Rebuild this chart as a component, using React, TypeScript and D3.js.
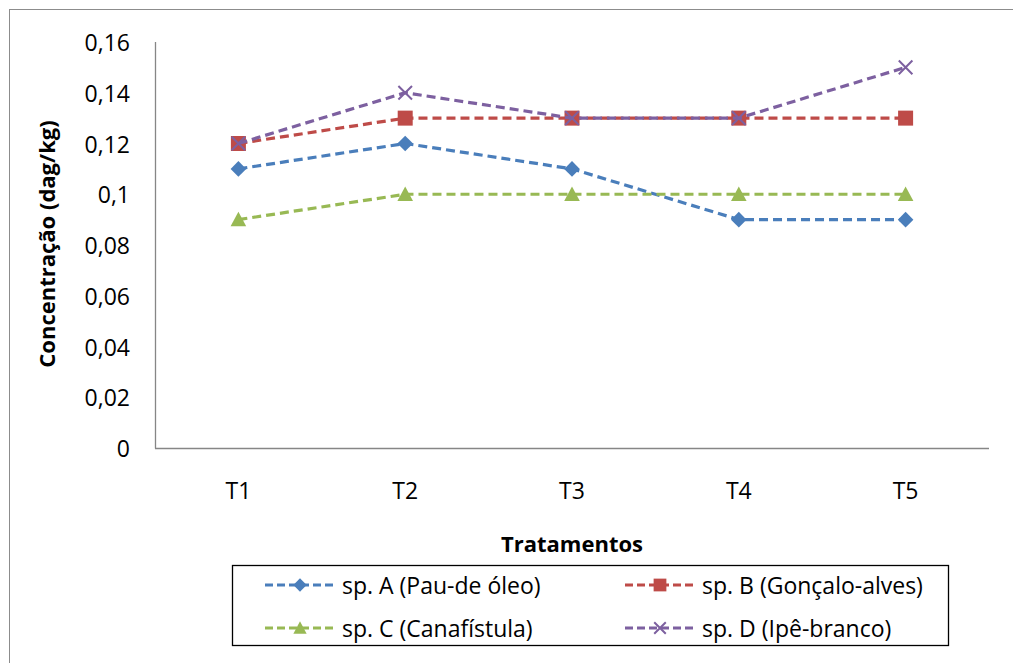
import React from "react";
import * as d3 from "d3";

const categories = ["T1", "T2", "T3", "T4", "T5"];
const seriesNames = [
  "sp. A (Pau-de óleo)",
  "sp. B (Gonçalo-alves)",
  "sp. C (Canafístula)",
  "sp. D (Ipê-branco)",
];
const seriesA = [0.11, 0.12, 0.11, 0.09, 0.09];
const seriesB = [0.12, 0.13, 0.13, 0.13, 0.13];
const seriesC = [0.09, 0.1, 0.1, 0.1, 0.1];
const seriesD = [0.12, 0.14, 0.13, 0.13, 0.15];
const yTicks = [0, 0.02, 0.04, 0.06, 0.08, 0.1, 0.12, 0.14, 0.16];
const colors = ["#4A7EBB", "#BE4B48", "#98B954", "#7D60A0"];
const markers = ["diamond", "square", "triangle", "x"];

const FONT = "'Open Sans', Lato, sans-serif";

function Marker({ type, x, y, color, k = 1 }: { type: string; x: number; y: number; color: string; k?: number }) {
  if (type === "diamond") {
    const s = 7.8 * k;
    return <path d={`M${x},${y - s}L${x + s},${y}L${x},${y + s}L${x - s},${y}Z`} fill={color} />;
  }
  if (type === "square") {
    const s = 7.5 * k;
    return <rect x={x - s} y={y - s} width={2 * s} height={2 * s} fill={color} />;
  }
  if (type === "triangle") {
    const s = 7.8 * k;
    return <path d={`M${x},${y - s}L${x + s},${y + s * 0.85}L${x - s},${y + s * 0.85}Z`} fill={color} />;
  }
  const s = 6.8 * k;
  return (
    <path
      d={`M${x - s},${y - s}L${x + s},${y + s}M${x - s},${y + s}L${x + s},${y - s}`}
      stroke={color}
      strokeWidth={2}
      fill="none"
    />
  );
}

export default function App() {
  const W = 1013;
  const H = 663;
  const left = 155;
  const right = 989;
  const top = 42;
  const bottom = 448;
  const x = d3.scaleBand().domain(categories).range([left, right]);
  const y = d3.scaleLinear().domain([0, 0.16]).range([bottom, top]);
  const cx = (c: string) => (x(c) ?? 0) + x.bandwidth() / 2;
  const allSeries = [seriesA, seriesB, seriesC, seriesD];
  const line = d3
    .line<number>()
    .x((_, i) => cx(categories[i]))
    .y((d) => y(d));

  const legendPos = [
    { lx: 265, ty: 585 },
    { lx: 625, ty: 585 },
    { lx: 265, ty: 628 },
    { lx: 625, ty: 628 },
  ];

  return (
    <div style={{ position: "absolute", left: 0, top: 0 }}>
      <svg width={W} height={H} style={{ display: "block" }}>
        <rect x={0} y={0} width={W} height={H} fill="#fff" />
        <rect x={9.5} y={9.5} width={W + 20} height={H + 20} fill="none" stroke="#8c8c8c" strokeWidth={1} />
        <line x1={left + 0.5} x2={left + 0.5} y1={top} y2={bottom + 0.5} stroke="#868686" strokeWidth={1.3} />
        <line x1={left} x2={right} y1={bottom + 0.5} y2={bottom + 0.5} stroke="#868686" strokeWidth={1.3} />
        {yTicks.map((t) => (
          <text
            key={t}
            x={130}
            y={y(t)}
            textAnchor="end"
            dominantBaseline="central"
            fontFamily={FONT}
            fontSize={23}
            fill="#000"
          >
            {String(t).replace(".", ",")}
          </text>
        ))}
        {categories.map((c) => (
          <text
            key={c}
            x={cx(c)}
            y={490}
            textAnchor="middle"
            dominantBaseline="central"
            fontFamily={FONT}
            fontSize={23}
            fill="#000"
          >
            {c}
          </text>
        ))}
        <text
          x={572}
          y={543}
          textAnchor="middle"
          dominantBaseline="central"
          fontFamily={FONT}
          fontSize={22}
          fontWeight="bold"
        >
          Tratamentos
        </text>
        <text
          transform={`translate(46,244) rotate(-90)`}
          textAnchor="middle"
          dominantBaseline="central"
          fontFamily={FONT}
          fontSize={22}
          fontWeight="bold"
        >
          Concentração (dag/kg)
        </text>
        {allSeries.map((s, i) => (
          <g key={i}>
            <path
              d={line(s) ?? ""}
              fill="none"
              stroke={colors[i]}
              strokeWidth={3.2}
              strokeDasharray="9,5"
            />
            {s.map((v, j) => (
              <Marker key={j} type={markers[i]} x={cx(categories[j])} y={y(v)} color={colors[i]} />
            ))}
          </g>
        ))}
        <rect x={232.5} y={565.5} width={716} height={80} fill="#fff" stroke="#000" strokeWidth={1.3} />
        {seriesNames.map((n, i) => {
          const p = legendPos[i];
          return (
            <g key={n}>
              <line
                x1={p.lx}
                x2={p.lx + 70}
                y1={p.ty}
                y2={p.ty}
                stroke={colors[i]}
                strokeWidth={3.2}
                strokeDasharray="8,4"
              />
              <Marker type={markers[i]} x={p.lx + 35} y={p.ty} color={colors[i]} k={0.85} />
              <text
                x={p.lx + 77}
                y={p.ty}
                dominantBaseline="central"
                fontFamily={FONT}
                fontSize={23}
              >
                {n}
              </text>
            </g>
          );
        })}
      </svg>
    </div>
  );
}
